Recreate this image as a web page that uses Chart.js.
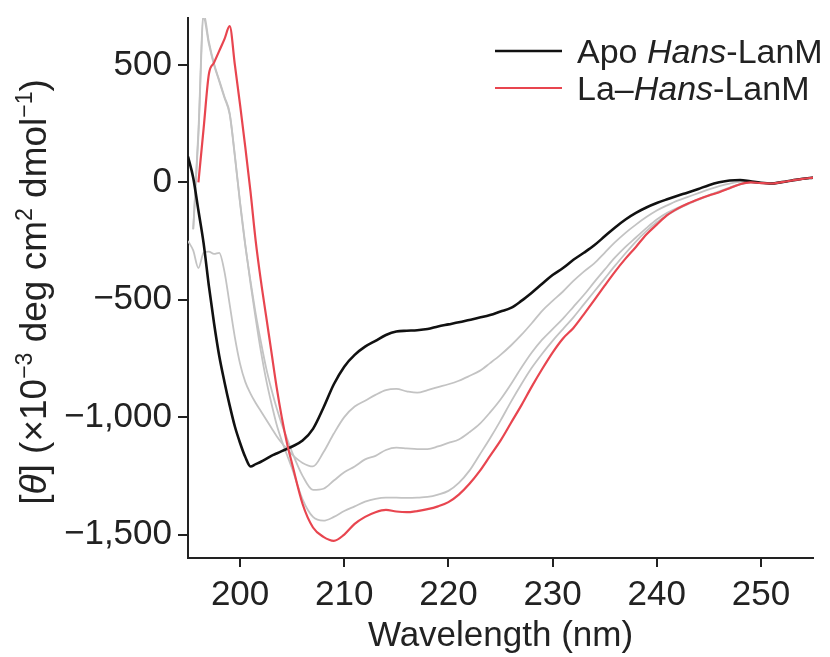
<!DOCTYPE html>
<html>
<head>
<meta charset="utf-8">
<script src="https://cdn.jsdelivr.net/npm/chart.js@4.4.1/dist/chart.umd.min.js"></script>
<style>
  html, body { margin: 0; padding: 0; background: #ffffff; }
  #wrap { width: 830px; height: 657px; position: relative; }
</style>
</head>
<body>
<div id="wrap"><canvas id="cd" width="830" height="657"></canvas></div>
<script>
// Wavelength grid (nm): half-nm steps up to 205, whole nm afterwards
const wavelength = [
  195, 195.5, 196, 196.5, 197, 197.5, 198, 198.5, 199, 199.5, 200,
  200.5, 201, 201.5, 202, 202.5, 203, 203.5, 204, 204.5, 205,
  206, 207, 208, 209, 210, 211, 212, 213, 214, 215,
  216, 217, 218, 219, 220, 221, 222, 223, 224, 225,
  226, 227, 228, 229, 230, 231, 232, 233, 234, 235,
  236, 237, 238, 239, 240, 241, 242, 243, 244, 245,
  246, 247, 248, 249, 250, 251, 252, 253, 254, 255
];

// Mean residue ellipticity (x10^-3 deg cm2 dmol-1)
const apoHansLanM = [
  110, 20, -120, -260, -440, -600, -740, -850, -950, -1040, -1110,
  -1170, -1210, -1200, -1190, -1178, -1165, -1155, -1145, -1135, -1125,
  -1100, -1050, -960, -860, -785, -735, -700, -675, -650, -635,
  -632, -630, -625, -614, -605, -596, -586, -576, -565, -550,
  -535, -505, -470, -432, -395, -365, -330, -300, -268, -230,
  -192, -158, -130, -107, -88, -72, -57, -43, -28, -12,
  0, 8, 10, 4, -2, -5, 1, 8, 15, 20
];

const laHansLanM = [
  null, null, 0, 230, 460, 510, 560, 610, 665, 500, 330,
  150, -40, -250, -420, -570, -720, -870, -1000, -1110, -1200,
  -1370, -1470, -1510, -1527, -1500, -1455, -1425, -1405, -1395, -1402,
  -1405, -1400, -1392, -1380, -1362, -1330, -1285, -1230, -1165, -1100,
  -1025, -950, -870, -795, -725, -665, -620, -562, -502, -440,
  -380, -325, -275, -222, -180, -140, -112, -90, -72, -56,
  -42, -25, -8, 0, -3, -5, 1, 8, 15, 20
];

// Intermediate La3+ additions (titration steps)
const titrationStep1 = [
  -250, -290, -365, -300, -295, -305, -300, -380, -520, -660, -773,
  -850, -900, -940, -975, -1010, -1045, -1080, -1110, -1135, -1160,
  -1195, -1210, -1150, -1070, -1000, -955, -930, -905, -885, -880,
  -890, -896, -885, -872, -860, -845, -825, -803, -770, -735,
  -695, -650, -600, -547, -505, -465, -420, -380, -345, -300,
  -255, -215, -180, -148, -120, -98, -78, -62, -46, -30,
  -16, -5, 2, 2, -3, -5, 1, 8, 15, 20
];

const titrationStep2 = [
  null, -200, 200, 700, 590, 500, 430, 360, 290, 110, -90,
  -270, -420, -560, -680, -790, -880, -960, -1030, -1090, -1150,
  -1250, -1310, -1305, -1270, -1235, -1210, -1180, -1165, -1140, -1130,
  -1133, -1136, -1136, -1125, -1110, -1095, -1065, -1029, -980, -925,
  -860, -790, -725, -670, -625, -580, -530, -480, -425, -372,
  -320, -275, -235, -195, -158, -130, -108, -90, -72, -54,
  -38, -22, -8, 0, -3, -5, 1, 8, 15, 20
];

const titrationStep3 = [
  null, -200, 220, 720, 600, 505, 435, 365, 295, 115, -85,
  -265, -430, -580, -720, -840, -940, -1030, -1100, -1160, -1220,
  -1350, -1425, -1441, -1425, -1400, -1380, -1360, -1348, -1343, -1343,
  -1344, -1343, -1340, -1330, -1314, -1280, -1229, -1160, -1090, -1015,
  -935, -860, -790, -730, -675, -625, -575, -520, -465, -410,
  -355, -302, -252, -208, -170, -140, -114, -93, -74, -57,
  -42, -25, -9, 0, -3, -5, 1, 8, 15, 20
];

const xTickValues = [200, 210, 220, 230, 240, 250];
const yTickValues = [-1500, -1000, -500, 0, 500];

const FONT = "'Liberation Sans', Arial, Helvetica, sans-serif";
const INK = '#222222';

function pairs(values) {
  const out = [];
  values.forEach((v, i) => { if (v !== null) out.push({ x: wavelength[i], y: v }); });
  return out;
}

function fmtTick(v) {
  const s = Math.abs(v).toLocaleString('en-US');
  return v < 0 ? '\u2212' + s : s;
}

// Text made of runs (italic / superscript)
function runFont(run, size) {
  const sz = run.sup ? Math.round(size * 0.62) : size;
  return (run.it ? 'italic ' : '') + sz + 'px ' + FONT;
}
function runsWidth(ctx, runs, size) {
  let w = 0;
  runs.forEach(r => { ctx.font = runFont(r, size); w += ctx.measureText(r.t).width; });
  return w;
}
function drawRuns(ctx, runs, x, y, size) {
  let cx = x;
  ctx.textBaseline = 'alphabetic';
  ctx.textAlign = 'left';
  runs.forEach(r => {
    ctx.font = runFont(r, size);
    ctx.fillText(r.t, cx, r.sup ? y - size * 0.38 : y);
    cx += ctx.measureText(r.t).width;
  });
}

const yTitleRuns = [
  { t: '[' }, { t: '\u03B8', it: true }, { t: '] (\u00D710' }, { t: '\u22123', sup: true },
  { t: ' deg cm' }, { t: '2', sup: true }, { t: ' dmol' }, { t: '\u22121', sup: true }, { t: ')' }
];

const legendEntries = [
  { color: '#111111', width: 2.6, runs: [{ t: 'Apo ' }, { t: 'Hans', it: true }, { t: '-LanM' }] },
  { color: '#e8454f', width: 2.2, runs: [{ t: 'La\u2013' }, { t: 'Hans', it: true }, { t: '-LanM' }] }
];

const annotate = {
  id: 'annotate',
  afterDraw(chart) {
    const ctx = chart.ctx;
    ctx.save();
    ctx.fillStyle = INK;
    // rotated y-axis title
    const size = 37;
    const w = runsWidth(ctx, yTitleRuns, size);
    ctx.save();
    ctx.translate(46, 292);
    ctx.rotate(-Math.PI / 2);
    drawRuns(ctx, yTitleRuns, -w / 2, 0, size);
    ctx.restore();
    // legend
    legendEntries.forEach((e, i) => {
      const ly = 51 + i * 37;
      ctx.strokeStyle = e.color;
      ctx.lineWidth = e.width;
      ctx.beginPath();
      ctx.moveTo(495, ly);
      ctx.lineTo(562, ly);
      ctx.stroke();
      ctx.fillStyle = INK;
      drawRuns(ctx, e.runs, 577, ly + 12, 34);
    });
    ctx.restore();
  }
};

const grey = '#c3c3c3';
const chart = new Chart(document.getElementById('cd'), {
  type: 'line',
  data: {
    datasets: [
      { label: 'La\u2013Hans-LanM', data: pairs(laHansLanM), borderColor: '#e8454f', borderWidth: 2.2 },
      { label: 'Apo Hans-LanM', data: pairs(apoHansLanM), borderColor: '#111111', borderWidth: 2.6 },
      { label: 'La step 3', data: pairs(titrationStep3), borderColor: grey, borderWidth: 1.8 },
      { label: 'La step 2', data: pairs(titrationStep2), borderColor: grey, borderWidth: 1.8 },
      { label: 'La step 1', data: pairs(titrationStep1), borderColor: grey, borderWidth: 1.8 }
    ]
  },
  options: {
    responsive: false,
    animation: false,
    layout: { padding: { top: 18, right: 17, left: 0, bottom: 0 } },
    elements: {
      point: { radius: 0 },
      line: { tension: 0, cubicInterpolationMode: 'monotone', fill: false }
    },
    plugins: { legend: { display: false }, tooltip: { enabled: false } },
    scales: {
      x: {
        type: 'linear', min: 195, max: 255,
        afterBuildTicks: s => { s.ticks = xTickValues.map(v => ({ value: v })); },
        afterFit: s => { s.height = 99; s.paddingLeft = 0; s.paddingRight = 0; },
        grid: { drawOnChartArea: false, drawTicks: true, tickLength: 9, color: INK, lineWidth: 2 },
        border: { display: true, color: INK, width: 2 },
        ticks: { color: INK, font: { family: FONT, size: 35 }, padding: 7, maxRotation: 0 },
        title: { display: true, text: 'Wavelength (nm)', color: INK, font: { family: FONT, size: 35 }, padding: { top: 0, bottom: 0 } }
      },
      y: {
        type: 'linear', min: -1600, max: 700,
        afterBuildTicks: s => { s.ticks = yTickValues.map(v => ({ value: v })); },
        afterFit: s => { s.width = 188; s.paddingTop = 0; s.paddingBottom = 0; },
        grid: { drawOnChartArea: false, drawTicks: true, tickLength: 10, color: INK, lineWidth: 2 },
        border: { display: true, color: INK, width: 2 },
        ticks: { color: INK, font: { family: FONT, size: 35 }, padding: 6, callback: v => fmtTick(v) }
      }
    }
  },
  plugins: [annotate]
});
</script>
</body>
</html>
